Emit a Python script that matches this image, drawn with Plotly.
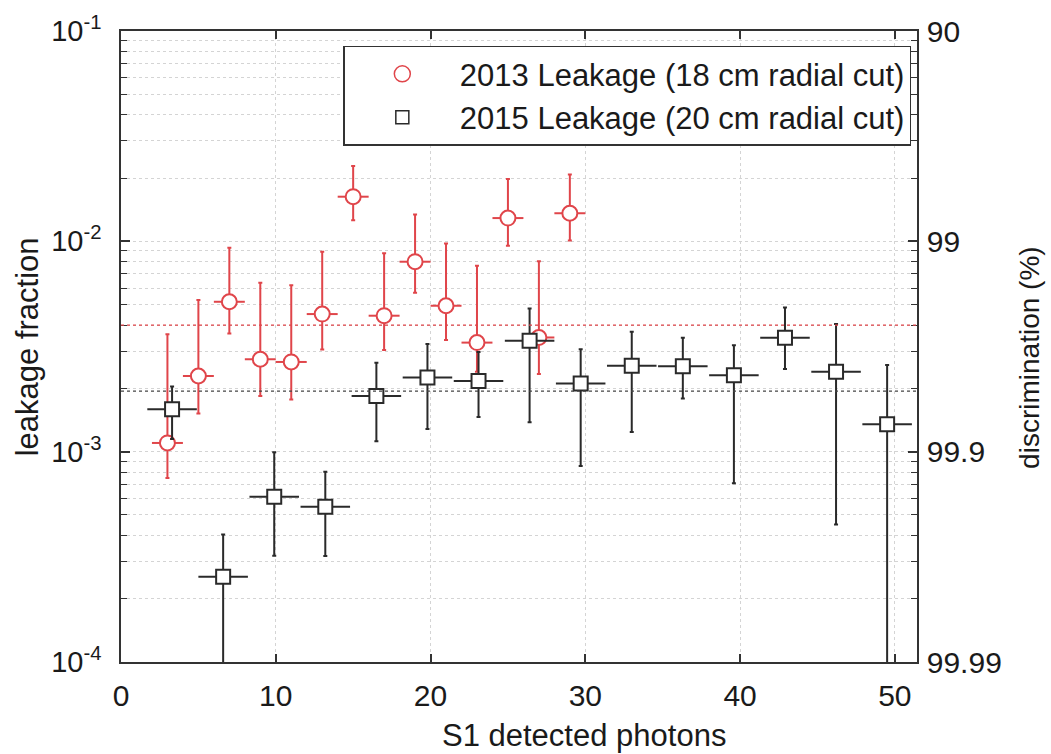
import plotly.graph_objects as go

# ---------------- data ----------------
# 2013 leakage (18 cm radial cut) - red circles
x13 = [3, 5, 7, 9, 11, 13, 15, 17, 19, 21, 23, 25, 27, 29]
x13_half = [1.0, 1.0, 1.0, 1.0, 1.0, 1.0, 1.0, 1.0, 1.0, 1.0, 1.0, 1.0, 1.0, 1.0]
y13 = [1.10e-3, 2.29e-3, 5.16e-3, 2.75e-3, 2.67e-3, 4.51e-3, 1.63e-2,
       4.43e-3, 8.0e-3, 4.94e-3, 3.30e-3, 1.29e-2, 3.49e-3, 1.36e-2]
y13_hi = [3.62e-3, 5.26e-3, 9.33e-3, 6.36e-3, 6.19e-3, 8.93e-3, 2.28e-2,
          8.77e-3, 1.34e-2, 9.77e-3, 7.65e-3, 1.98e-2, 8.05e-3, 2.08e-2]
y13_lo = [7.5e-4, 1.52e-3, 3.65e-3, 1.84e-3, 1.77e-3, 3.06e-3, 1.26e-2,
          3.04e-3, 5.70e-3, 3.40e-3, 2.40e-3, 9.53e-3, 2.34e-3, 1.01e-2]

# 2015 leakage (20 cm radial cut) - black squares
x15 = [3.3, 6.6, 9.9, 13.2, 16.5, 19.8, 23.1, 26.4, 29.7, 33.0, 36.3, 39.6, 42.9, 46.2, 49.5]
x15_half = [1.6, 1.6, 1.6, 1.6, 1.6, 1.6, 1.6, 1.6, 1.6, 1.6, 1.6, 1.6, 1.6, 1.6, 1.6]
y15 = [1.59e-3, 2.54e-4, 6.11e-4, 5.47e-4, 1.84e-3, 2.25e-3, 2.17e-3, 3.37e-3,
       2.11e-3, 2.56e-3, 2.55e-3, 2.31e-3, 3.48e-3, 2.40e-3, 1.35e-3]
y15_hi = [2.04e-3, 4.04e-4, 9.93e-4, 8.03e-4, 2.65e-3, 3.25e-3, 2.98e-3, 4.80e-3,
          3.07e-3, 3.72e-3, 3.48e-3, 3.21e-3, 4.85e-3, 4.05e-3, 2.58e-3]
y15_lo = [1.15e-3, 5e-5, 3.20e-4, 3.19e-4, 1.12e-3, 1.28e-3, 1.46e-3, 1.38e-3,
          8.55e-4, 1.24e-3, 1.79e-3, 7.07e-4, 2.47e-3, 4.51e-4, 5e-5]

# average leakage levels (dotted lines)
avg13 = 4.0e-3
avg15 = 1.94e-3

# axis ticks
x_ticks = [0, 10, 20, 30, 40, 50]
y_decades = [1e-4, 1e-3, 1e-2, 1e-1]
y_left_text = ["10<sup>-4</sup>", "10<sup>-3</sup>", "10<sup>-2</sup>", "10<sup>-1</sup>"]
y_right_text = ["99.99", "99.9", "99", "90"]

names = ["2013 Leakage (18 cm radial cut)", "2015 Leakage (20 cm radial cut)"]

# ---------------- style ----------------
RED = "#e0454a"
BLK = "#2a2a2a"
GRID = "#d4d4d4"
AX = "#333333"
FONT = "Liberation Sans, Arial, sans-serif"

minor_vals = [m * d for d in y_decades[:-1] for m in range(2, 10)]

fig = go.Figure()

fig.add_trace(go.Scatter(
    x=x13, y=y13, mode="markers", showlegend=False,
    marker=dict(symbol="circle", size=15, color="white", line=dict(color=RED, width=2)),
    error_y=dict(type="data", symmetric=False,
                 array=[h - v for h, v in zip(y13_hi, y13)],
                 arrayminus=[v - l for v, l in zip(y13, y13_lo)],
                 color=RED, thickness=2, width=2),
    error_x=dict(type="data", array=x13_half, color=RED, thickness=2, width=0),
))

fig.add_trace(go.Scatter(
    x=x15, y=y15, mode="markers", showlegend=False,
    marker=dict(symbol="square", size=14, color="white", line=dict(color=BLK, width=2)),
    error_y=dict(type="data", symmetric=False,
                 array=[h - v for h, v in zip(y15_hi, y15)],
                 arrayminus=[v - l for v, l in zip(y15, y15_lo)],
                 color=BLK, thickness=2, width=2),
    error_x=dict(type="data", array=x15_half, color=BLK, thickness=2, width=0),
))

# legend-only entries
fig.add_trace(go.Scatter(
    x=[None], y=[None], mode="markers", name=names[0],
    marker=dict(symbol="circle", size=16, color="white", line=dict(color=RED, width=1.5)),
))
fig.add_trace(go.Scatter(
    x=[None], y=[None], mode="markers", name=names[1],
    marker=dict(symbol="square", size=13, color="white", line=dict(color=BLK, width=1.5)),
))
# trace on the right axis so it is drawn
fig.add_trace(go.Scatter(x=[None], y=[None], yaxis="y2", showlegend=False, hoverinfo="skip"))

# average lines
fig.add_shape(type="line", xref="paper", x0=0, x1=1, yref="y", y0=avg13, y1=avg13,
              line=dict(color=RED, width=1.3, dash="dot"))
fig.add_shape(type="line", xref="paper", x0=0, x1=1, yref="y", y0=avg15, y1=avg15,
              line=dict(color="#444444", width=1.3, dash="dot"))

fig.update_layout(
    width=1051, height=754,
    margin=dict(l=121, r=134, t=31, b=92),
    paper_bgcolor="white", plot_bgcolor="white",
    font=dict(family=FONT, size=29, color="#1a1a1a"),
    xaxis=dict(
        range=[0, 51.43], tickmode="array", tickvals=x_ticks,
        ticks="inside", ticklen=8, tickwidth=1.5, tickcolor=AX,
        showline=True, linecolor=AX, linewidth=1.5, mirror="ticks",
        showgrid=True, gridcolor=GRID, gridwidth=1, griddash="dot",
        zeroline=False, tickfont=dict(size=30), ticklabelstandoff=6,
    ),
    yaxis=dict(
        type="log", range=[-4, -1], tickmode="array", tickvals=y_decades, ticktext=y_left_text,
        ticks="inside", ticklen=9, tickwidth=1.5, tickcolor=AX,
        showline=True, linecolor=AX, linewidth=1.5, mirror=True,
        showgrid=True, gridcolor=GRID, gridwidth=1, griddash="dot",
        minor=dict(tickmode="array", tickvals=minor_vals, ticks="inside", ticklen=6,
                   tickwidth=1.2, tickcolor=AX, showgrid=True, gridcolor=GRID, griddash="dot"),
        zeroline=False, tickfont=dict(size=29), ticklabelstandoff=12,
    ),
    yaxis2=dict(
        type="log", range=[-4, -1], overlaying="y", side="right", anchor="x",
        tickmode="array", tickvals=y_decades, ticktext=y_right_text,
        ticks="inside", ticklen=9, tickwidth=1.5, tickcolor=AX,
        showline=True, linecolor=AX, linewidth=1.5, showgrid=False,
        minor=dict(tickmode="array", tickvals=minor_vals, ticks="inside", ticklen=6,
                   tickwidth=1.2, tickcolor=AX, showgrid=False),
        zeroline=False, tickfont=dict(size=30), ticklabelstandoff=2,
    ),
    legend=dict(
        x=0.2793, y=0.9767, xanchor="left", yanchor="top",
        bgcolor="white", bordercolor=AX, borderwidth=1.5,
        font=dict(size=31, family=FONT, color="#1a1a1a"),
        itemwidth=105, tracegroupgap=0,
    ),
    annotations=[
        dict(text="S1 detected photons", xref="paper", yref="paper", x=0.582, y=-0.117,
             xanchor="center", yanchor="middle", showarrow=False, font=dict(size=31)),
        dict(text="leakage fraction", xref="paper", yref="paper", x=-0.117, y=0.5,
             xanchor="center", yanchor="middle", textangle=-90, showarrow=False,
             font=dict(size=31)),
        dict(text="discrimination (%)", xref="paper", yref="paper", x=1.142, y=0.482,
             xanchor="center", yanchor="middle", textangle=-90, showarrow=False,
             font=dict(size=28)),
    ],
)

fig.write_html("out.html")
